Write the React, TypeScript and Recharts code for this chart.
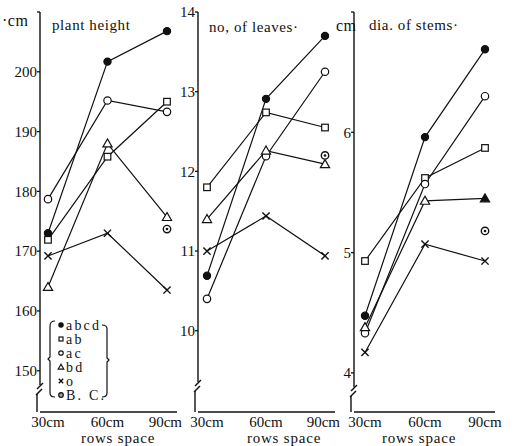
import React from 'react';
import { LineChart, Line, XAxis, YAxis, ReferenceLine } from 'recharts';

// ---------- data ----------
const rowSpaces = [30, 60, 90];
const xTickLabels = ['30cm', '60cm', '90cm'];
const seriesKeys = ['abcd', 'ab', 'ac', 'bd', 'o', 'bc'];
const seriesNames = ['abcd', 'ab', 'ac', 'bd', 'o', 'B. C.'];

// plant height (cm)
const heightAbcd = [173.0, 201.7, 206.8];
const heightAb = [171.9, 185.8, 195.0];
const heightAc = [178.7, 195.2, 193.3];
const heightBd = [164.0, 188.0, 175.7];
const heightO = [169.2, 173.0, 163.5];
const heightBc = [null, null, 173.7];
const heightTicks = [150, 160, 170, 180, 190, 200, 210];

// no. of leaves
const leavesAbcd = [10.69, 12.91, 13.7];
const leavesAb = [11.8, 12.74, 12.55];
const leavesAc = [10.4, 12.19, 13.25];
const leavesBd = [11.4, 12.26, 12.09];
const leavesO = [11.0, 11.44, 10.94];
const leavesBc = [null, null, 12.2];
const leavesTicks = [10, 11, 12, 13, 14];

// dia. of stems (cm)
const stemAbcd = [4.475, 5.96, 6.69];
const stemAb = [4.93, 5.62, 5.87];
const stemAc = [4.33, 5.57, 6.3];
const stemBd = [4.38, 5.43, 5.45];
const stemO = [4.17, 5.07, 4.93];
const stemBc = [null, null, 5.18];
const stemTicks = [4, 5, 6, 7];

type Val = number | null;
const buildRows = (cols: Val[][]) =>
  rowSpaces.map((s, i) => {
    const row: Record<string, Val> = { space: s };
    seriesKeys.forEach((k, j) => (row[k] = cols[j][i]));
    return row;
  });

const FONT = '"Liberation Serif", "Times New Roman", serif';
const INK = '#111';

// ---------- markers ----------
function Marker({ kind, cx, cy, filled, s = 1 }: any) {
  const sw = 1.2;
  switch (kind) {
    case 'abcd':
      return <circle cx={cx} cy={cy} r={3.6 * s} fill={INK} stroke={INK} strokeWidth={sw} />;
    case 'ab':
      return <rect x={cx - 3.3 * s} y={cy - 3.3 * s} width={6.6 * s} height={6.6 * s} fill="#fff" stroke={INK} strokeWidth={sw} />;
    case 'ac':
      return <circle cx={cx} cy={cy} r={3.7 * s} fill="#fff" stroke={INK} strokeWidth={sw} />;
    case 'bd':
      return (
        <polygon
          points={`${cx},${cy - 4.6 * s} ${cx - 4.6 * s},${cy + 3.4 * s} ${cx + 4.6 * s},${cy + 3.4 * s}`}
          fill={filled ? INK : '#fff'}
          stroke={INK}
          strokeWidth={sw}
        />
      );
    case 'o':
      return (
        <g stroke={INK} strokeWidth={1.4}>
          <line x1={cx - 3.6 * s} y1={cy - 3.6 * s} x2={cx + 3.6 * s} y2={cy + 3.6 * s} />
          <line x1={cx - 3.6 * s} y1={cy + 3.6 * s} x2={cx + 3.6 * s} y2={cy - 3.6 * s} />
        </g>
      );
    default:
      return (
        <g>
          <circle cx={cx} cy={cy} r={3.7 * s} fill="#fff" stroke={INK} strokeWidth={1.4} />
          <circle cx={cx} cy={cy} r={1.3 * s} fill={INK} />
        </g>
      );
  }
}

const makeDot = (kind: string, filledIndex: number | null) => (props: any) => {
  const { cx, cy, index, value } = props;
  if (cx == null || cy == null || value == null || isNaN(cy)) return <g key={`${kind}-${index}`} />;
  return (
    <g key={`${kind}-${index}`}>
      <Marker kind={kind} cx={cx} cy={cy} filled={filledIndex === index} />
    </g>
  );
};

// ---------- panel ----------
type PanelCfg = {
  left: number;
  width: number;
  plotLeft: number;
  plotRight: number;
  xDomain: [number, number];
  yDomain: [number, number];
  ticks: number[];
  hiddenTick: number | null;
  breakY: number; // page px
  rows: Record<string, Val>[];
  filledBdIndex: number | null;
};

const PLOT_TOP = 12;
const PLOT_BOTTOM = 412;
const H = 446;

function Panel({ cfg }: { cfg: PanelCfg }) {
  const { xDomain, yDomain } = cfg;
  const toX = (px: number) =>
    xDomain[0] + ((px - cfg.plotLeft) / (cfg.plotRight - cfg.plotLeft)) * (xDomain[1] - xDomain[0]);
  const toY = (py: number) =>
    yDomain[1] - ((py - PLOT_TOP) / (PLOT_BOTTOM - PLOT_TOP)) * (yDomain[1] - yDomain[0]);
  const ax = xDomain[0];
  const b = cfg.breakY;
  const seg = (x1: number, y1: number, x2: number, y2: number, k: string) => (
    <ReferenceLine
      key={k}
      segment={[{ x: toX(x1), y: toY(y1) }, { x: toX(x2), y: toY(y2) }]}
      stroke={INK}
      strokeWidth={1.4}
      ifOverflow="visible"
    />
  );
  const pl = cfg.plotLeft;
  return (
    <div style={{ position: 'absolute', left: cfg.left, top: 0 }}>
      <LineChart
        width={cfg.width}
        height={H}
        data={cfg.rows}
        margin={{ top: PLOT_TOP, right: cfg.left + cfg.width - cfg.plotRight, bottom: 4, left: 0 }}
      >
        <XAxis
          dataKey="space"
          type="number"
          domain={xDomain}
          allowDataOverflow
          ticks={rowSpaces}
          tickFormatter={(v: number) => xTickLabels[rowSpaces.indexOf(v)] ?? ''}
          tickLine={false}
          tickSize={0}
          tickMargin={4}
          height={30}
          axisLine={{ stroke: INK, strokeWidth: 1.4 }}
          tick={{ fill: INK, fontSize: 15, fontFamily: FONT }}
        />
        <YAxis
          type="number"
          domain={yDomain}
          allowDataOverflow
          ticks={cfg.ticks}
          tickFormatter={(v: number) => (v === cfg.hiddenTick ? '' : String(v))}
          width={cfg.plotLeft - cfg.left}
          axisLine={false}
          tickLine={{ stroke: INK, strokeWidth: 1.3 }}
          tickSize={3}
          tickMargin={0}
          tick={{ fill: INK, fontSize: 15, fontFamily: FONT }}
        />
        <ReferenceLine segment={[{ x: ax, y: yDomain[1] }, { x: ax, y: toY(b - 3) }]} stroke={INK} strokeWidth={1.4} />
        {seg(pl - 3, b + 1, pl + 3, b - 5, 's1')}
        {seg(pl - 4, b + 7, pl + 2, b + 1, 's2')}
        {seg(pl - 3, b + 6, pl - 3, PLOT_BOTTOM, 's3')}
        {seriesKeys.map((k) => (
          <Line
            key={k}
            dataKey={k}
            type="linear"
            stroke={k === 'bc' ? 'none' : INK}
            strokeWidth={1.2}
            isAnimationActive={false}
            connectNulls={false}
            dot={makeDot(k, k === 'bd' ? cfg.filledBdIndex : null)}
            activeDot={false}
          />
        ))}
      </LineChart>
    </div>
  );
}

const panels: PanelCfg[] = [
  {
    left: 0,
    width: 182,
    plotLeft: 40,
    plotRight: 177,
    xDomain: [25.97, 95.04],
    yDomain: [143.1, 210],
    ticks: heightTicks,
    hiddenTick: 210,
    breakY: 388,
    rows: buildRows([heightAbcd, heightAb, heightAc, heightBd, heightO, heightBc]),
    filledBdIndex: null,
  },
  {
    left: 160,
    width: 180,
    plotLeft: 198,
    plotRight: 335,
    xDomain: [25.42, 95.08],
    yDomain: [8.98, 14.0],
    ticks: leavesTicks,
    hiddenTick: null,
    breakY: 385,
    rows: buildRows([leavesAbcd, leavesAb, leavesAc, leavesBd, leavesO, leavesBc]),
    filledBdIndex: null,
  },
  {
    left: 318,
    width: 199,
    plotLeft: 354,
    plotRight: 495,
    xDomain: [24.5, 95],
    yDomain: [3.675, 7.0],
    ticks: stemTicks,
    hiddenTick: 7,
    breakY: 390,
    rows: buildRows([stemAbcd, stemAb, stemAc, stemBd, stemO, stemBc]),
    filledBdIndex: 2,
  },
];

function Label({ x, y, text, size = 15, spacing = 0.6, center = false }: any) {
  return (
    <div
      style={{
        position: 'absolute',
        left: x,
        top: y - size / 2,
        fontFamily: FONT,
        fontSize: size,
        lineHeight: `${size}px`,
        letterSpacing: spacing,
        color: INK,
        whiteSpace: 'nowrap',
        transform: center ? 'translateX(-50%)' : undefined,
      }}
    >
      {text}
    </div>
  );
}

function LegendBox() {
  return (
    <svg width={72} height={92} style={{ position: 'absolute', left: 44, top: 314 }}>
      <path d="M 11 7 Q 6 7 6 12 L 6 43 L 4 45 L 6 47 L 6 79 Q 6 83 11 83" fill="none" stroke={INK} strokeWidth={1.2} />
      <path d="M 58 11 Q 63 11 63 15 L 63 44 L 65 46 L 63 48 L 63 79 Q 63 83 58 83" fill="none" stroke={INK} strokeWidth={1.2} />
      {seriesKeys.map((k, i) => (
        <g key={k}>
          <Marker kind={k} cx={17} cy={11 + i * 14} s={0.6} />
          <text x={22} y={15.5 + i * 14} fontFamily={FONT} fontSize={14} letterSpacing={2.2} fill={INK}>
            {seriesNames[i]}
          </text>
        </g>
      ))}
    </svg>
  );
}

export default function App() {
  return (
    <div style={{ position: 'fixed', left: 0, top: 0, width: 517, height: 446, background: '#fff', overflow: 'hidden' }}>
      {panels.map((p, i) => (
        <Panel key={i} cfg={p} />
      ))}
      <Label x={2} y={21} text="·cm" size={16} spacing={0.5} />
      <Label x={52} y={25} text="plant height" size={15} spacing={0.6} />
      <Label x={209} y={27} text="no, of leaves·" size={15} spacing={0.6} />
      <Label x={336} y={26} text="cm" size={16} spacing={0.3} />
      <Label x={369} y={25} text="dia. of stems·" size={15} spacing={0.6} />
      <Label x={118} y={438} text="rows space" size={15} spacing={0.8} center />
      <Label x={284} y={438} text="rows space" size={15} spacing={0.8} center />
      <Label x={419} y={438} text="rows space" size={15} spacing={0.8} center />
      <LegendBox />
    </div>
  );
}
